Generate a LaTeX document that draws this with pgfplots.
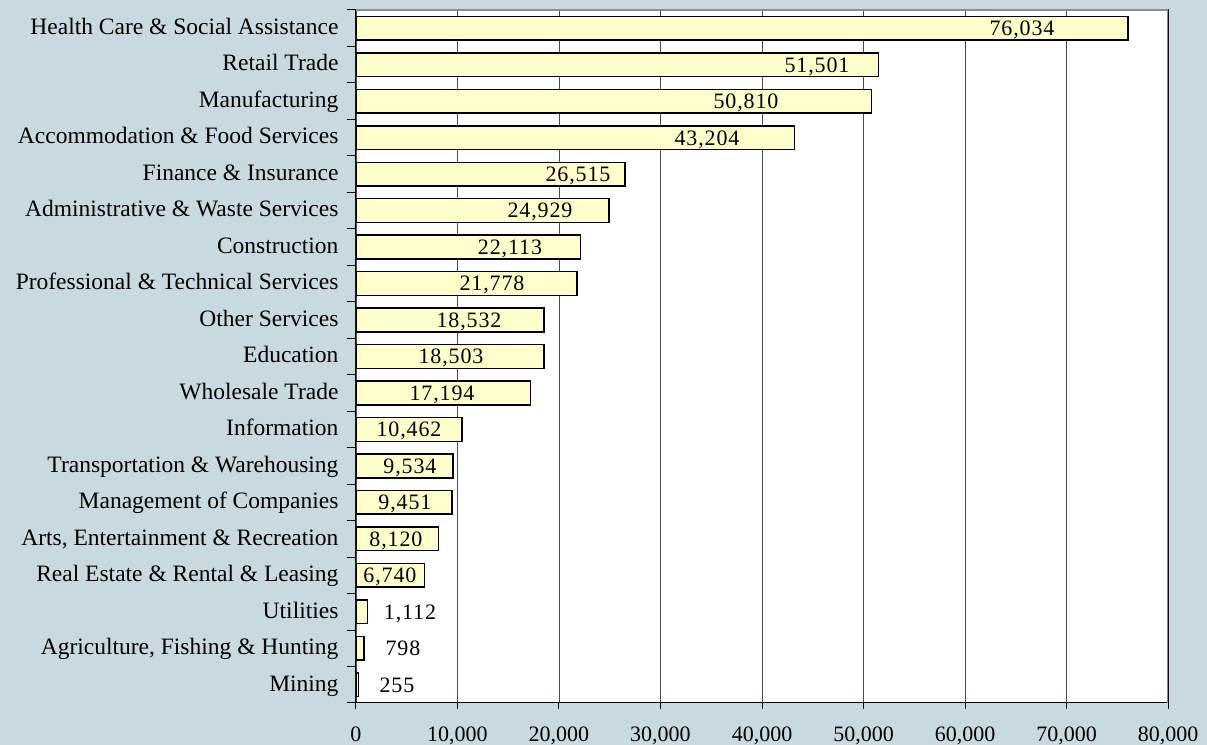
\documentclass[border=0pt]{standalone}
\usepackage{pgfplots}
\pgfplotsset{compat=1.18}
\usepackage{pgfplotstable}
\usepackage{fontspec}
\setmainfont{Liberation Serif}
\usetikzlibrary{calc,backgrounds}
\definecolor{bgc}{RGB}{201,217,224}
\definecolor{barc}{RGB}{255,255,204}
\pgfplotstableread{
i v lx
0 255 4039
1 798 4631
2 1112 5320
3 6740 3350
4 8120 3941
5 9451 4828
6 9534 5320
7 10462 5222
8 17194 8473
9 18503 9360
10 18532 11133
11 21778 13399
12 22113 15172
13 24929 18128
14 26515 21872
15 43204 34581
16 50810 38424
17 51501 45419
18 76034 65616
}\data
\begin{document}
\begin{tikzpicture}
\begin{axis}[
  name=ax,
  scale only axis,
  width=812pt, height=693pt,
  xmin=0, xmax=80000, ymin=-0.5, ymax=18.5,
  xtick={0,10000,...,80000},
  ytick={0,...,18},
  yticklabels={Mining, {Agriculture, Fishing \& Hunting}, Utilities, Real Estate \& Rental \& Leasing, {Arts, Entertainment \& Recreation}, Management of Companies, Transportation \& Warehousing, Information, Wholesale Trade, Education, Other Services, Professional \& Technical Services, Construction, Administrative \& Waste Services, Finance \& Insurance, Accommodation \& Food Services, Manufacturing, Retail Trade, Health Care \& Social Assistance},
  minor ytick={-0.5,0.5,...,18.5},
  xtick pos=bottom, ytick pos=left,
  xmajorgrids,
  major x grid style={black!70, line width=0.8pt},
  tick align=outside,
  major tick length=6pt, minor tick length=9pt,
  major y tick style={draw=none},
  minor y tick style={black, line width=1pt},
  major x tick style={black, line width=1pt},
  axis line style={black, line width=1pt},
  axis background/.style={fill=white},
  scaled x ticks=false,
  xticklabel style={font=\fontsize{22}{26}\selectfont, yshift=-14.5pt},
  yticklabel style={font=\fontsize{23.5}{27}\selectfont, anchor=east, text height=16pt, text depth=6.4pt, xshift=-8pt, yshift=-1.5pt},
  /pgf/number format/fixed,
  /pgf/number format/precision=0,
  /pgf/number format/1000 sep={,},
  /pgf/number format/assume math mode=true,
]
\addplot[xbar, bar width=0.65, fill=barc, draw=black, line width=1.5pt] table[x=v, y=i] {\data};
\addplot[only marks, mark=*, mark size=0pt, scatter/use mapped color={draw=none,fill=none},
  nodes near coords, point meta=explicit,
  nodes near coords style={anchor=base, yshift=-7.4pt, font=\fontsize{22}{26}\selectfont\addfontfeature{LetterSpace=4}, text=black}]
  table[x=lx, y=i, meta=v] {\data};
\draw[black!45, line width=1.5pt] (rel axis cs:0,1) -- (rel axis cs:1,1) -- (rel axis cs:1,0);
\end{axis}
\coordinate (bl) at ($(ax.south west)+(-356pt,-42pt)$);
\coordinate (tr) at ($(ax.north east)+(39pt,10pt)$);
\begin{scope}[on background layer]
\fill[bgc] (bl) rectangle (tr);
\end{scope}
\pgfresetboundingbox
\path[use as bounding box] (bl) rectangle (tr);
\end{tikzpicture}
\end{document}
